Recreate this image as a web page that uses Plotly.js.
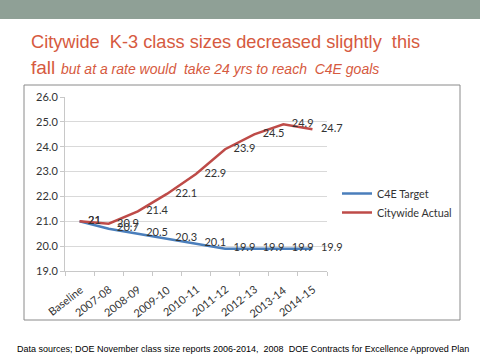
<!DOCTYPE html>
<html><head><meta charset="utf-8">
<script src="https://cdn.plot.ly/plotly-3.0.1.min.js"></script>
<style>html,body{margin:0;padding:0;background:#fff;}#chart{width:480px;height:360px;}</style>
</head><body><div id="chart"></div>
<script>
const categories = ["Baseline","2007-08","2008-09","2009-10","2010-11","2011-12","2012-13","2013-14","2014-15"];
const c4eTarget = [21, 20.7, 20.5, 20.3, 20.1, 19.9, 19.9, 19.9, 19.9];
const citywideActual = [21, 20.9, 21.4, 22.1, 22.9, 23.9, 24.5, 24.9, 24.7];
const yTicks = [19, 20, 21, 22, 23, 24, 25, 26];

const W = 480, H = 360;
const L = 65, R = 327, T = 97, B = 271;
const px = x => (x - L) / (R - L);
const py = y => (B - y) / (B - T);
const lbl = v => "\u00a0\u00a0\u00a0" + String(v);

const labelFont = {family: "Lato, 'Liberation Sans', sans-serif", size: 11, color: "#333"};
const traces = [
  {x: categories, y: c4eTarget, name: "C4E Target", mode: "lines+text", type: "scatter",
   line: {color: "#4a7ebb", width: 2.5}, text: c4eTarget.map(lbl), textposition: "middle right",
   textfont: labelFont, cliponaxis: false},
  {x: categories, y: citywideActual, name: "Citywide Actual", mode: "lines+text", type: "scatter",
   line: {color: "#be4b48", width: 2.5}, text: citywideActual.map(lbl), textposition: "middle right",
   textfont: labelFont, cliponaxis: false}
];

const titleColor = "#d65a40";
const xLabelAnnotations = categories.map(c => ({
  xref: "x", yref: "paper", x: c, y: py(280), xanchor: "right", yanchor: "top",
  xshift: 8, showarrow: false, text: c, textangle: -38,
  font: {family: "Lato, 'Liberation Sans', sans-serif", size: 11, color: "#333"}
}));

const layout = {
  width: W, height: H,
  margin: {l: L, r: W - R, t: T, b: H - B},
  paper_bgcolor: "#fff", plot_bgcolor: "#fff",
  font: {family: "Lato, 'Liberation Sans', sans-serif", size: 11, color: "#333"},
  xaxis: {type: "category", range: [-0.5, categories.length - 0.5],
    showline: true, linecolor: "#c8c8c8", linewidth: 1, ticks: "outside", ticklen: 4,
    tickcolor: "#c8c8c8", tickson: "boundaries", showgrid: false, fixedrange: true,
    showticklabels: false},
  yaxis: {range: [19, 26], tickvals: yTicks, tickformat: ".1f", showline: true,
    linecolor: "#c8c8c8", ticks: "outside", ticklen: 4, tickcolor: "#c8c8c8",
    showgrid: true, gridcolor: "#d9d9d9", gridwidth: 1, zeroline: false, fixedrange: true,
    tickfont: {size: 11, color: "#333"}},
  legend: {x: px(337), y: py(179), xanchor: "left", yanchor: "top",
    font: {size: 10.8, color: "#333"}, bgcolor: "rgba(0,0,0,0)", itemwidth: 30, tracegroupgap: 0},
  showlegend: true,
  shapes: [
    {type: "rect", xref: "paper", yref: "paper", x0: px(-5), x1: px(485), y0: py(0), y1: py(19),
     fillcolor: "#8fa096", line: {width: 0}, layer: "below"},
    {type: "rect", xref: "paper", yref: "paper", x0: px(24), x1: px(460), y0: py(85), y1: py(320),
     fillcolor: "rgba(0,0,0,0)", line: {color: "#8a8a8a", width: 1}}
  ],
  annotations: xLabelAnnotations.concat([
    {xref: "paper", yref: "paper", x: px(29), y: py(42), xanchor: "left", yanchor: "middle",
     showarrow: false, text: "Citywide  K-3 class sizes decreased slightly  this",
     font: {family: "'Liberation Sans', Arial, sans-serif", size: 18.2, color: titleColor}},
    {xref: "paper", yref: "paper", x: px(29), y: py(68), xanchor: "left", yanchor: "middle",
     showarrow: false, text: "fall",
     font: {family: "'Liberation Sans', Arial, sans-serif", size: 19, color: titleColor}},
    {xref: "paper", yref: "paper", x: px(59), y: py(69), xanchor: "left", yanchor: "middle",
     showarrow: false, text: "<i>but at a rate would  take 24 yrs to reach  C4E goals</i>",
     font: {family: "'Liberation Sans', Arial, sans-serif", size: 14, color: titleColor}},
    {xref: "paper", yref: "paper", x: px(15), y: py(349), xanchor: "left", yanchor: "middle",
     showarrow: false, text: "Data sources; DOE November class size reports 2006-2014,  2008  DOE Contracts for Excellence Approved Plan",
     font: {family: "'Liberation Sans', Arial, sans-serif", size: 9, color: "#000"}}
  ])
};
Plotly.newPlot("chart", traces, layout, {displayModeBar: false, staticPlot: true});
</script></body></html>
